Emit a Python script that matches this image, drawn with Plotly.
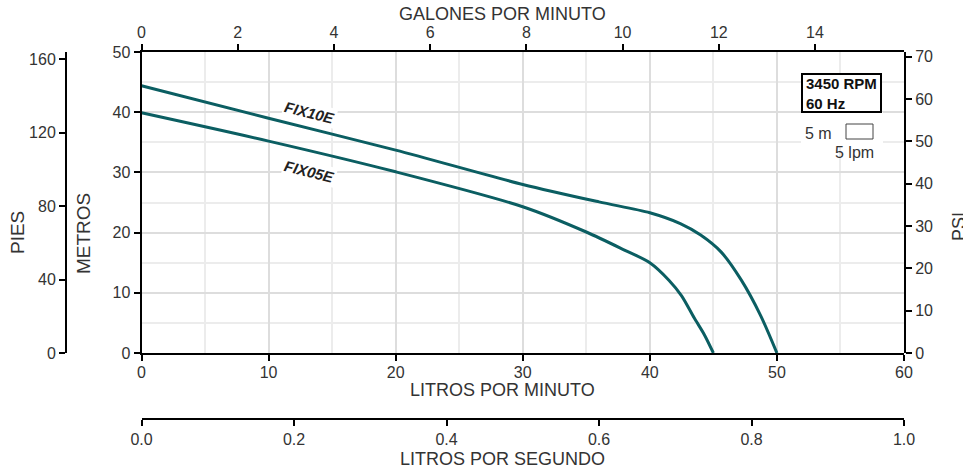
import plotly.graph_objects as go

# ---- data ----
fix10e_lpm = [0, 10, 20, 30, 36, 40, 42.4, 44, 45.6, 47.2, 48.7, 50]
fix10e_m = [44.4, 39.0, 33.7, 28.0, 25.1, 23.3, 21.5, 19.6, 16.8, 12.1, 6.3, 0]

fix05e_lpm = [0, 10, 20, 30, 35, 38, 40, 41.5, 42.5, 43.5, 44.3, 45]
fix05e_m = [39.9, 35.2, 30.1, 24.3, 20.1, 17.1, 15.0, 12.1, 9.5, 5.8, 3.0, 0]

lpm_range = [0, 60]
m_range = [0, 50]
gpm_range = [0, 60 / 3.78541]
lps_range = [0, 1]
ft_range = [0, 50 * 3.28084]
psi_range = [0, 50 / 0.70307]

curve_labels = ["FIX10E", "FIX05E"]
rpm_text = "3450 RPM<br>60 Hz"

W, H = 963, 470
TEAL = "#0b5e62"
TXT = "#333333"
FONT = "Liberation Sans, Arial, sans-serif"


def px(x):
    return x / W


def py(y):
    return 1 - y / H


xdom = [px(141.5), px(904)]
ydom = [py(353), py(52)]

fig = go.Figure()
fig.add_trace(go.Scatter(x=fix10e_lpm, y=fix10e_m, mode="lines",
                         line=dict(color=TEAL, width=3, shape="spline", smoothing=0.8),
                         hoverinfo="skip", showlegend=False))
fig.add_trace(go.Scatter(x=fix05e_lpm, y=fix05e_m, mode="lines",
                         line=dict(color=TEAL, width=3, shape="spline", smoothing=0.8),
                         hoverinfo="skip", showlegend=False))
# invisible traces to activate secondary axes
fig.add_trace(go.Scatter(x=gpm_range, y=m_range, xaxis="x2", yaxis="y", mode="markers",
                         marker=dict(opacity=0), hoverinfo="skip", showlegend=False))
fig.add_trace(go.Scatter(x=lps_range, y=m_range, xaxis="x3", yaxis="y", mode="markers",
                         marker=dict(opacity=0), hoverinfo="skip", showlegend=False))
fig.add_trace(go.Scatter(x=lpm_range, y=ft_range, xaxis="x", yaxis="y2", mode="markers",
                         marker=dict(opacity=0), hoverinfo="skip", showlegend=False))
fig.add_trace(go.Scatter(x=lpm_range, y=psi_range, xaxis="x", yaxis="y3", mode="markers",
                         marker=dict(opacity=0), hoverinfo="skip", showlegend=False))

tickfont = dict(family=FONT, size=16, color=TXT)
common = dict(showline=True, linecolor="black", linewidth=2, ticks="outside",
              ticklen=6, tickwidth=1.5, tickcolor="black", tickfont=tickfont,
              zeroline=False, fixedrange=True, automargin=False)

fig.update_layout(
    width=W, height=H, autosize=False,
    margin=dict(l=0, r=0, t=0, b=0, pad=0, autoexpand=False),
    paper_bgcolor="white", plot_bgcolor="white",
    showlegend=False,
    xaxis=dict(domain=xdom, range=lpm_range, dtick=10, anchor="y", ticklabelstandoff=-2,
               showgrid=True, gridcolor="#dddddd", gridwidth=1.5,
               minor=dict(dtick=5, showgrid=True, gridcolor="#ececec", gridwidth=1.5),
               **common),
    yaxis=dict(domain=ydom, range=m_range, dtick=10, anchor="x",
               showgrid=True, gridcolor="#dddddd", gridwidth=1.5,
               minor=dict(dtick=5, showgrid=True, gridcolor="#ececec", gridwidth=1.5),
               **common),
    xaxis2=dict(overlaying="x", side="top", anchor="y", range=gpm_range, dtick=2,
                showgrid=False, **common),
    xaxis3=dict(overlaying="x", side="bottom", anchor="free", position=py(418.5),
                range=lps_range, dtick=0.2, tickformat=".1f", showgrid=False, **common),
    yaxis2=dict(overlaying="y", side="left", anchor="free", position=px(66),
                range=ft_range, dtick=40, showgrid=False, **common),
    yaxis3=dict(overlaying="y", side="right", anchor="free", position=px(905),
                range=psi_range, dtick=10, showgrid=False, **common),
)

titlefont = dict(family=FONT, size=18, color=TXT)
vtitlefont = dict(family=FONT, size=19, color=TXT)
ann = []
ann.append(dict(text="GALONES POR MINUTO", x=px(502), y=py(14), xref="paper", yref="paper",
                showarrow=False, font=titlefont, xanchor="center", yanchor="middle"))
ann.append(dict(text="LITROS POR MINUTO", x=px(502), y=py(390), xref="paper", yref="paper",
                showarrow=False, font=titlefont, xanchor="center", yanchor="middle"))
ann.append(dict(text="LITROS POR SEGUNDO", x=px(502), y=py(459), xref="paper", yref="paper",
                showarrow=False, font=titlefont, xanchor="center", yanchor="middle"))
ann.append(dict(text="PIES", x=px(17), y=py(233), xref="paper", yref="paper", textangle=-90,
                showarrow=False, font=vtitlefont, xanchor="center", yanchor="middle"))
ann.append(dict(text="METROS", x=px(84), y=py(234), xref="paper", yref="paper", textangle=-90,
                showarrow=False, font=vtitlefont, xanchor="center", yanchor="middle"))
ann.append(dict(text="PSI", x=px(959), y=py(227), xref="paper", yref="paper", textangle=-90,
                showarrow=False, font=titlefont, xanchor="center", yanchor="middle"))

labfont = dict(family=FONT, size=15, color="#222222")
ann.append(dict(text="<b><i>" + curve_labels[0] + "</i></b>", x=px(309), y=py(113),
                xref="paper", yref="paper", textangle=14, showarrow=False, font=labfont,
                xanchor="center", yanchor="middle", bgcolor="white", borderpad=1))
ann.append(dict(text="<b><i>" + curve_labels[1] + "</i></b>", x=px(309), y=py(171),
                xref="paper", yref="paper", textangle=14, showarrow=False, font=labfont,
                xanchor="center", yanchor="middle", bgcolor="white", borderpad=1))

ann.append(dict(text="<b>" + rpm_text + "</b>", x=px(804), y=py(93), xref="paper", yref="paper",
                showarrow=False, align="left", xanchor="left", yanchor="middle",
                font=dict(family=FONT, size=15, color="#111111")))
ann.append(dict(text="5 m", x=px(834), y=py(133), xref="paper", yref="paper",
                showarrow=False, xanchor="right", yanchor="middle",
                font=dict(family=FONT, size=16, color=TXT)))
ann.append(dict(text="5 lpm", x=px(876), y=py(152.5), xref="paper", yref="paper",
                showarrow=False, xanchor="right", yanchor="middle",
                font=dict(family=FONT, size=16, color=TXT)))
fig.update_layout(annotations=ann)

shapes = [
    dict(type="rect", xref="paper", yref="paper", x0=px(801), x1=px(883), y0=py(146), y1=py(112),
         fillcolor="white", line=dict(width=0), layer="above"),
    dict(type="rect", xref="paper", yref="paper", x0=px(802), x1=px(881), y0=py(112), y1=py(74),
         fillcolor="white", line=dict(color="black", width=2), layer="above"),
    dict(type="rect", xref="paper", yref="paper", x0=px(846), x1=px(873), y0=py(139), y1=py(124),
         fillcolor="white", line=dict(color="#444444", width=1), layer="above"),
]
fig.update_layout(shapes=shapes)

fig.write_html("out.html", config={"displayModeBar": False},
               post_script="document.body.style.margin='0';document.body.style.overflow='hidden';")
